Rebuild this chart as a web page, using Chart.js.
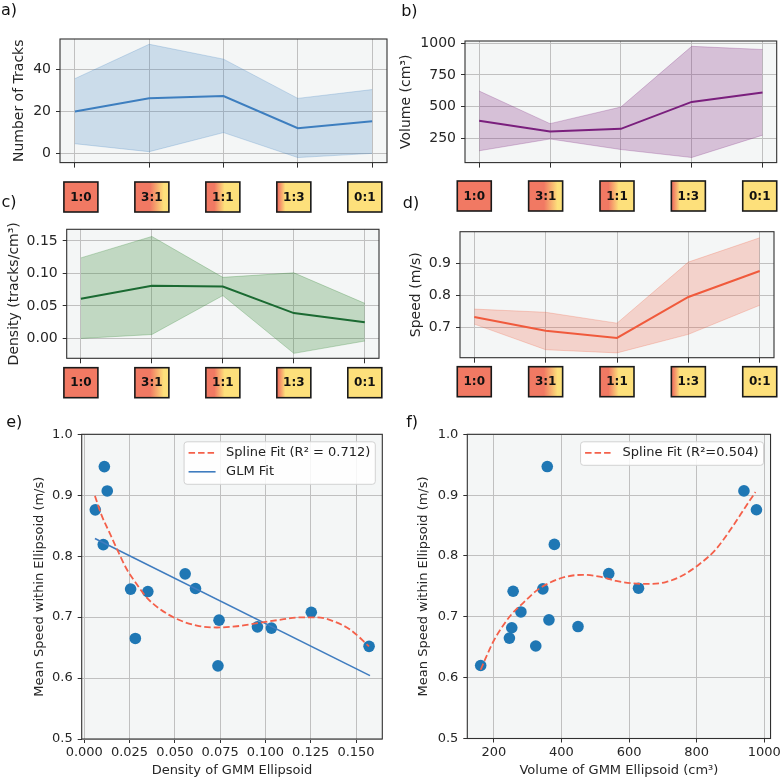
<!DOCTYPE html>
<html>
<head>
<meta charset="utf-8">
<script src="https://cdn.jsdelivr.net/npm/chart.js@4.4.1/dist/chart.umd.min.js"></script>
<style>
    body { margin: 0; background: #fff; width: 783px; height: 780px; position: relative; overflow: hidden; }
    .panel { position: absolute; }
</style>
</head>
<body>
<div class="panel" style="left:0;top:0;width:390px;height:176px"><canvas id="chartA"></canvas></div>
<div class="panel" style="left:390px;top:0;width:393px;height:176px"><canvas id="chartB"></canvas></div>
<div class="panel" style="left:0;top:176px;width:392px;height:228px"><canvas id="chartC"></canvas></div>
<div class="panel" style="left:390px;top:176px;width:393px;height:228px"><canvas id="chartD"></canvas></div>
<div class="panel" style="left:0;top:404px;width:392px;height:376px"><canvas id="chartE"></canvas></div>
<div class="panel" style="left:392px;top:404px;width:391px;height:376px"><canvas id="chartF"></canvas></div>
<script>
// group ratios (red : yellow)
const ratios = ['1:0', '3:1', '1:1', '1:3', '0:1'];

// a) tracks per group
const trackMean = [20, 26.3, 27.3, 12, 15.3];
const trackUpper = [35.6, 52, 44.9, 26.2, 30.4];
const trackLower = [4.6, 0.8, 9.9, -2, 0];

// b) volume per group
const volumeMean = [389, 305, 325, 537, 612];
const volumeUpper = [623, 366, 497, 975, 950];
const volumeLower = [152, 245, 162, 99, 275];

// c) density per group
const densityMean = [0.061, 0.081, 0.080, 0.039, 0.025];
const densityUpper = [0.124, 0.157, 0.094, 0.101, 0.054];
const densityLower = [0.0, 0.006, 0.066, -0.023, -0.004];

// d) speed per group
const speedMean = [0.732, 0.689, 0.667, 0.795, 0.876];
const speedUpper = [0.757, 0.747, 0.713, 0.904, 0.980];
const speedLower = [0.710, 0.630, 0.620, 0.678, 0.769];

// e/f) single ellipsoids
const ellipsoidSpeed = [0.947, 0.907, 0.876, 0.819, 0.771, 0.746, 0.747, 0.742, 0.708, 0.695, 0.684, 0.682, 0.665, 0.652, 0.620];
const ellipsoidDensity = [0.0111, 0.0127, 0.0061, 0.0105, 0.0557, 0.0256, 0.0614, 0.0351, 0.1253, 0.0744, 0.0956, 0.1033, 0.0282, 0.1572, 0.0738];
const ellipsoidVolume = [358, 940, 977, 379, 540, 345, 628, 257, 280, 363, 449, 253, 246, 324, 161];

// fitted curves
const splineDensityX = [0.0059, 0.0096, 0.0142, 0.0188, 0.0234, 0.029, 0.0345, 0.0419, 0.0511, 0.0622, 0.0732, 0.0843, 0.0954, 0.1065, 0.1194, 0.1286, 0.1378, 0.147, 0.1572];
const splineDensityY = [0.899, 0.867, 0.837, 0.807, 0.779, 0.754, 0.732, 0.713, 0.697, 0.686, 0.683, 0.685, 0.690, 0.695, 0.6995, 0.6995, 0.693, 0.679, 0.652];
const glmDensityX = [0.0059, 0.1577];
const glmDensityY = [0.829, 0.604];
const splineVolumeX = [161, 178, 198, 223, 252, 287, 326, 365, 414, 463, 513, 562, 611, 660, 709, 758, 807, 857, 906, 945, 974];
const splineVolumeY = [0.613, 0.635, 0.659, 0.682, 0.704, 0.723, 0.743, 0.756, 0.766, 0.769, 0.766, 0.759, 0.755, 0.754, 0.757, 0.768, 0.786, 0.811, 0.848, 0.881, 0.905];

// tick values
const trackTicks = [0, 20, 40];
const volumeTicks = [250, 500, 750, 1000];
const densityTicks = [0, 0.05, 0.10, 0.15];
const speedTicks = [0.7, 0.8, 0.9];
const meanSpeedTicks = [0.5, 0.6, 0.7, 0.8, 0.9, 1.0];
const densityAxisTicks = [0, 0.025, 0.05, 0.075, 0.1, 0.125, 0.15];
const volumeAxisTicks = [200, 400, 600, 800, 1000];

Chart.defaults.font.family = '"DejaVu Sans", sans-serif';
Chart.defaults.font.size = 13;
Chart.defaults.color = '#262626';
Chart.defaults.animation = false;
Chart.defaults.events = [];
Chart.defaults.plugins.legend.display = false;
Chart.defaults.plugins.tooltip.enabled = false;

const GRID = '#c0c0c0';
const FRAME = '#303030';
const RED = '#f17963';
const YELLOW = '#fde07b';
const SPLINE = '#f4604a';

const plotFrame = {
    id: 'plotFrame',
    beforeDraw(chart) {
        const {ctx, chartArea: a} = chart;
        ctx.save();
        ctx.fillStyle = '#f4f6f6';
        ctx.fillRect(a.left, a.top, a.width, a.height);
        ctx.restore();
    },
    afterDatasetsDraw(chart) {
        const {ctx, chartArea: a} = chart;
        ctx.save();
        ctx.strokeStyle = FRAME;
        ctx.lineWidth = 1.1;
        ctx.strokeRect(a.left, a.top, a.width, a.height);
        ctx.restore();
    }
};

const panelTag = {
    id: 'panelTag',
    afterDraw(chart, args, o) {
        if (!o.text) return;
        const ctx = chart.ctx;
        ctx.save();
        ctx.font = '16px "DejaVu Sans"';
        ctx.fillStyle = '#111';
        ctx.textBaseline = 'alphabetic';
        ctx.fillText(o.text, o.x, o.y);
        ctx.restore();
    }
};

// colored ratio boxes under the group axes
const ratioBoxes = {
    id: 'ratioBoxes',
    afterDraw(chart, args, o) {
        if (!o.rows) return;
        const ctx = chart.ctx;
        const xs = chart.scales.x;
        const w = 34, h = 30;
        ratios.forEach((lab, i) => {
            const parts = lab.split(':').map(Number);
            const r = parts[0] / (parts[0] + parts[1]);
            const cx = xs.getPixelForValue(i);
            o.rows.forEach(top => {
                const left = cx - w / 2;
                let fill;
                if (r >= 1) fill = RED;
                else if (r <= 0) fill = YELLOW;
                else {
                    fill = ctx.createLinearGradient(left, 0, left + w, 0);
                    fill.addColorStop(Math.max(0, 0.8 * r - 0.15), RED);
                    fill.addColorStop(Math.min(1, 1.2 * r - 0.05), YELLOW);
                }
                ctx.save();
                ctx.fillStyle = fill;
                ctx.fillRect(left, top, w, h);
                ctx.strokeStyle = '#1a1a1a';
                ctx.lineWidth = 1.6;
                ctx.strokeRect(left, top, w, h);
                ctx.fillStyle = '#111';
                ctx.font = 'bold 12px "DejaVu Sans"';
                ctx.textAlign = 'center';
                ctx.textBaseline = 'middle';
                ctx.fillText(lab, cx, top + h / 2 + 0.5);
                ctx.restore();
            });
        });
    }
};

// legend boxed inside the plot, top right
const insetLegend = {
    id: 'insetLegend',
    afterDraw(chart) {
        const items = chart.data.datasets.filter(d => d.legendEntry);
        if (!items.length) return;
        const {ctx, chartArea: a} = chart;
        ctx.save();
        ctx.font = '13px "DejaVu Sans"';
        const tw = Math.max(...items.map(d => ctx.measureText(d.label).width));
        const w = 4.5 + 27 + 10.5 + tw + 5;
        const h = 4.5 + items.length * 19;
        const x = a.right - 7 - w, y = a.top + 7.5;
        ctx.beginPath();
        if (ctx.roundRect) ctx.roundRect(x, y, w, h, 3); else ctx.rect(x, y, w, h);
        ctx.fillStyle = 'rgba(255,255,255,0.85)';
        ctx.fill();
        ctx.strokeStyle = '#d2d2d2';
        ctx.lineWidth = 1;
        ctx.stroke();
        items.forEach((d, i) => {
            const cy = y + 11 + i * 19;
            ctx.beginPath();
            ctx.strokeStyle = d.borderColor;
            ctx.lineWidth = d.borderWidth;
            ctx.setLineDash(d.borderDash || []);
            ctx.moveTo(x + 4.5, cy);
            ctx.lineTo(x + 31.5, cy);
            ctx.stroke();
            ctx.setLineDash([]);
            ctx.fillStyle = '#222';
            ctx.textBaseline = 'middle';
            ctx.fillText(d.label, x + 42, cy);
        });
        ctx.restore();
    }
};

function gridOpts() {
    return {color: GRID, lineWidth: 1, tickColor: FRAME, tickLength: 4};
}

function bandPanel(id, s) {
    const pts = arr => arr.map((v, i) => ({x: i, y: v}));
    return new Chart(document.getElementById(id), {
        type: 'line',
        data: {
            datasets: [
                {data: pts(s.mean), borderColor: s.color, borderWidth: 2, pointRadius: 0, fill: false},
                {data: pts(s.upper), borderColor: s.edge, borderWidth: 1, pointRadius: 0, fill: '+1', backgroundColor: s.fill},
                {data: pts(s.lower), borderColor: s.edge, borderWidth: 1, pointRadius: 0, fill: false}
            ]
        },
        options: {
            responsive: true,
            maintainAspectRatio: false,
            layout: {padding: {left: s.pl, top: s.pt, right: s.pr, bottom: 0}},
            scales: {
                x: {
                    type: 'linear', min: -0.2, max: 4.2,
                    afterBuildTicks: sc => { sc.ticks = ratios.map((r, i) => ({value: i})); },
                    afterFit: sc => { sc.height = s.xh; },
                    ticks: {display: false},
                    grid: Object.assign(gridOpts(), {tickLength: 5}),
                    border: {display: false}
                },
                y: {
                    type: 'linear', min: s.yMin, max: s.yMax,
                    afterBuildTicks: sc => { sc.ticks = s.yTicks.map(v => ({value: v})); },
                    afterFit: sc => { sc.width = s.yw; },
                    ticks: {padding: 5, font: {size: 14}, callback: v => s.fmt(v)},
                    grid: gridOpts(),
                    border: {display: false},
                    title: {display: true, text: s.title, font: {size: 14}, padding: {top: 4, bottom: 0}}
                }
            },
            plugins: {
                panelTag: s.tag,
                ratioBoxes: {rows: s.boxRows}
            }
        },
        plugins: [plotFrame, ratioBoxes, panelTag]
    });
}

function scatterPanel(id, s) {
    const datasets = [{
        label: s.splineLabel,
        data: s.splineX.map((x, i) => ({x: x, y: s.splineY[i]})),
        showLine: true, borderColor: SPLINE, borderWidth: 1.8, borderDash: [6.5, 3],
        pointRadius: 0, cubicInterpolationMode: 'monotone', legendEntry: true, order: 1
    }];
    if (s.glmX) {
        datasets.push({
            label: 'GLM Fit',
            data: s.glmX.map((x, i) => ({x: x, y: s.glmY[i]})),
            showLine: true, borderColor: '#3f7cbf', borderWidth: 1.6,
            pointRadius: 0, legendEntry: true, order: 1
        });
    }
    datasets.push({
        data: s.x.map((x, i) => ({x: x, y: ellipsoidSpeed[i]})),
        pointRadius: 5.8, backgroundColor: '#1f77b4', borderWidth: 0, order: 2
    });
    return new Chart(document.getElementById(id), {
        type: 'scatter',
        data: {datasets: datasets},
        options: {
            responsive: true,
            maintainAspectRatio: false,
            layout: {padding: {left: s.pl, top: s.pt, right: s.pr, bottom: 0}},
            scales: {
                x: {
                    type: 'linear', min: s.xMin, max: s.xMax,
                    afterBuildTicks: sc => { sc.ticks = s.xTicks.map(v => ({value: v})); },
                    afterFit: sc => { sc.height = s.xh; },
                    ticks: {padding: 2, maxRotation: 0, callback: v => s.xFmt(v)},
                    grid: gridOpts(),
                    border: {display: false},
                    title: {display: true, text: s.xTitle, padding: {top: 0, bottom: 1.5}}
                },
                y: {
                    type: 'linear', min: 0.5, max: 1.0,
                    afterBuildTicks: sc => { sc.ticks = meanSpeedTicks.map(v => ({value: v})); },
                    afterFit: sc => { sc.width = s.yw; },
                    ticks: {padding: 5, callback: v => v.toFixed(1)},
                    grid: gridOpts(),
                    border: {display: false},
                    title: {display: true, text: 'Mean Speed within Ellipsoid (m/s)', padding: {top: 4, bottom: 0}}
                }
            },
            plugins: {panelTag: s.tag}
        },
        plugins: [plotFrame, insetLegend, panelTag]
    });
}

bandPanel('chartA', {
    mean: trackMean, upper: trackUpper, lower: trackLower,
    color: '#3d7ebf', edge: 'rgba(61,126,191,0.25)', fill: 'rgba(61,126,191,0.22)',
    yMin: -4.4, yMax: 54.5, yTicks: trackTicks, fmt: v => String(v),
    title: 'Number of Tracks',
    pl: 6.8, yw: 53.2, pt: 39, pr: 3, xh: 8,
    tag: {text: 'a)', x: 1, y: 15}
});

bandPanel('chartB', {
    mean: volumeMean, upper: volumeUpper, lower: volumeLower,
    color: '#7a1f7d', edge: 'rgba(122,31,125,0.25)', fill: 'rgba(122,31,125,0.25)',
    yMin: 59, yMax: 1017, yTicks: volumeTicks, fmt: v => String(v),
    title: 'Volume (cm³)',
    pl: 4.3, yw: 70.7, pt: 41, pr: 6.3, xh: 8,
    tag: {text: 'b)', x: 11.2, y: 16}
});

bandPanel('chartC', {
    mean: densityMean, upper: densityUpper, lower: densityLower,
    color: '#1b6a32', edge: 'rgba(60,140,60,0.3)', fill: 'rgba(60,140,60,0.28)',
    yMin: -0.0306, yMax: 0.168, yTicks: densityTicks, fmt: v => v.toFixed(2),
    title: 'Density (tracks/cm³)',
    pl: 1.8, yw: 64.9, pt: 53.3, pr: 13, xh: 45.7,
    boxRows: [6, 191.7],
    tag: {text: 'c)', x: 1.5, y: 31}
});

bandPanel('chartD', {
    mean: speedMean, upper: speedUpper, lower: speedLower,
    color: '#f05a3c', edge: 'rgba(240,90,60,0.25)', fill: 'rgba(240,90,60,0.23)',
    yMin: 0.605, yMax: 0.999, yTicks: speedTicks, fmt: v => v.toFixed(1),
    title: 'Speed (m/s)',
    pl: 14.1, yw: 55.9, pt: 55.7, pr: 9, xh: 46.3,
    boxRows: [5, 190.7],
    tag: {text: 'd)', x: 12.8, y: 32}
});

scatterPanel('chartE', {
    x: ellipsoidDensity, xMin: -0.0014, xMax: 0.1645, xTicks: densityAxisTicks,
    xFmt: v => v.toFixed(3), xTitle: 'Density of GMM Ellipsoid',
    splineX: splineDensityX, splineY: splineDensityY, splineLabel: 'Spline Fit (R² = 0.712)',
    glmX: glmDensityX, glmY: glmDensityY,
    pl: 27.4, yw: 54.3, pt: 30.3, pr: 9.7, xh: 41,
    tag: {text: 'e)', x: 6.2, y: 23}
});

scatterPanel('chartF', {
    x: ellipsoidVolume, xMin: 121.4, xMax: 1018.7, xTicks: volumeAxisTicks,
    xFmt: v => String(v), xTitle: 'Volume of GMM Ellipsoid (cm³)',
    splineX: splineVolumeX, splineY: splineVolumeY, splineLabel: 'Spline Fit (R²=0.504)',
    pl: 19.5, yw: 55.8, pt: 30.3, pr: 11.3, xh: 41.5,
    tag: {text: 'f)', x: 14.2, y: 23}
});
</script>
</body>
</html>
